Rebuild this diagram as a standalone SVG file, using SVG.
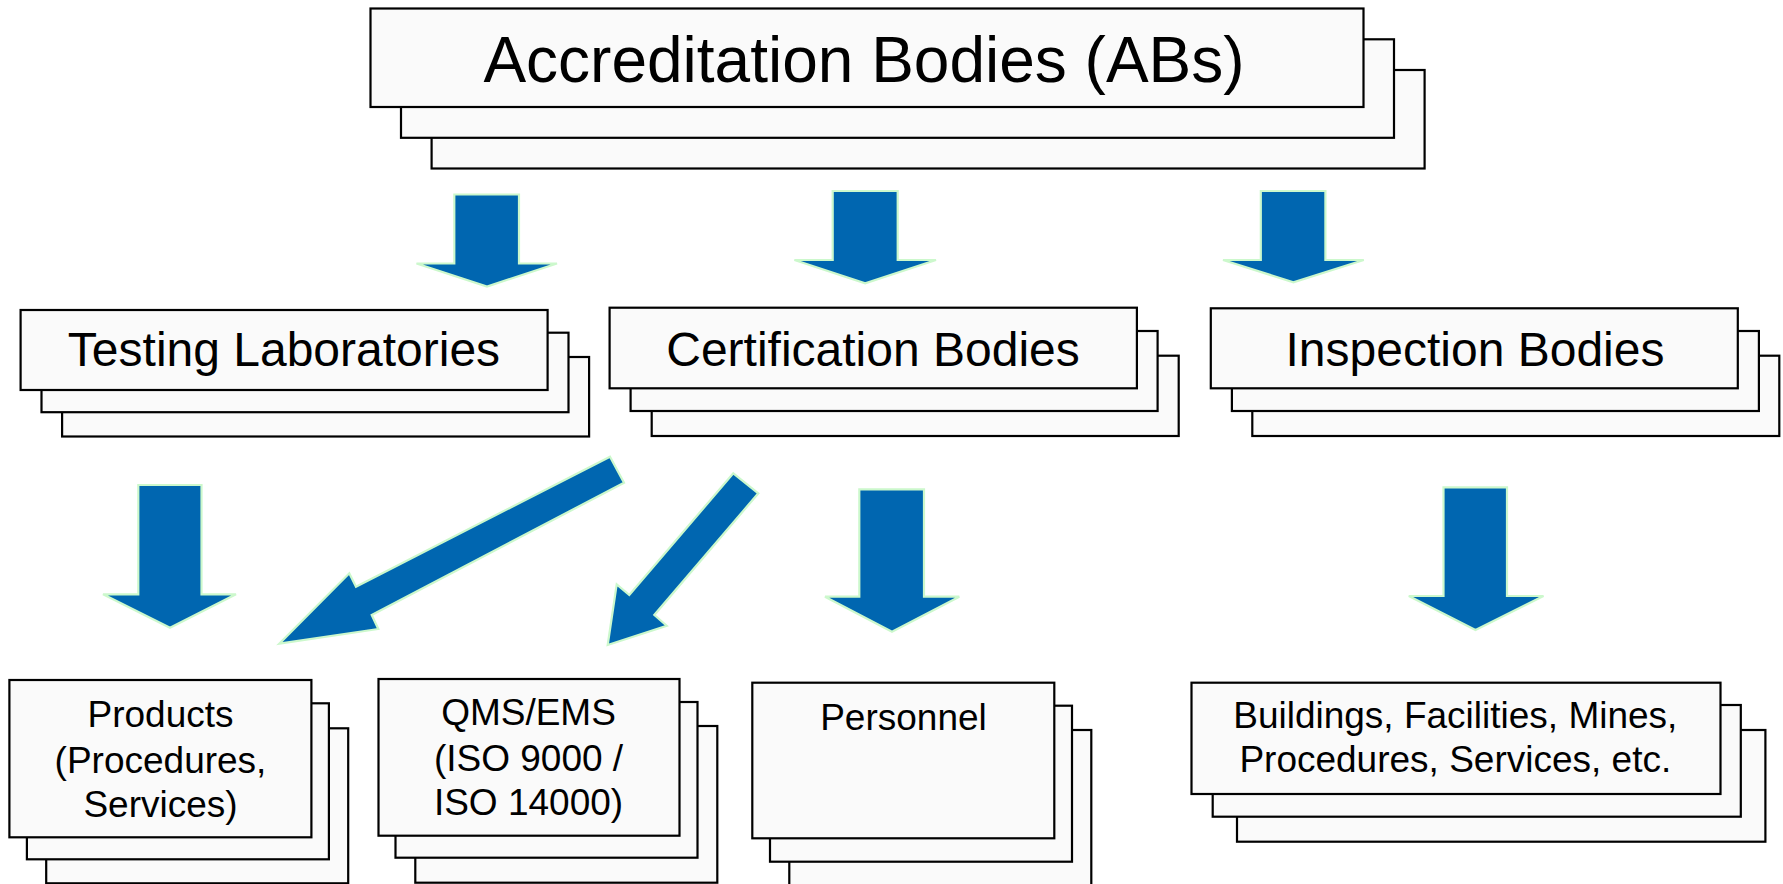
<svg xmlns="http://www.w3.org/2000/svg" width="1783" height="884" viewBox="0 0 1783 884">
<defs>
<style>
.box{fill:#fafafa;stroke:#000;stroke-width:2.2}
.arr{fill:#0066b0;stroke:#ccf8cc;stroke-width:2.2;stroke-linejoin:miter}
text{font-family:"Liberation Sans",Arial,sans-serif;fill:#000;text-anchor:middle}
.t1{font-size:64px}
.t2{font-size:48px}
.t3{font-size:37px}
</style>
</defs>
<rect width="1783" height="884" fill="#fff"/>
<g id="connectors">
<polygon class="arr" points="454.3,194.5 519,194.5 519,263.5 557,263.5 487,286.5 416.5,263.5 454.3,263.5"/>
<polygon class="arr" points="832.7,191 897.7,191 897.7,260 936,260 865.2,283.3 794.4,260 832.7,260"/>
<polygon class="arr" points="1260.8,191 1325.4,191 1325.4,260 1363.8,260 1293.4,282.3 1223,260 1260.8,260"/>
<polygon class="arr" points="138.3,485 201.5,485 201.5,594.3 236,594.3 170,627.7 103,594.3 138.3,594.3"/>
<polygon class="arr" points="859.3,489.3 924,489.3 924,596.7 959.3,596.7 892,631.7 825,596.7 859.3,596.7"/>
<polygon class="arr" points="1443.5,487.3 1507,487.3 1507,596 1543.5,596 1475.5,630 1408.8,596 1443.5,596"/>
<polygon class="arr" points="610,456.7 624,482.7 371.7,615 378.3,629 279.3,643.7 349.3,573.3 356,586.7"/>
<polygon class="arr" points="733.3,473.3 758.3,493.3 654.3,615 666.7,625.7 607.7,645 616.7,584.3 629.3,595"/>
</g>
<g id="node-abs">
<rect class="box" x="431.6" y="70" width="993" height="98.5"/>
<rect class="box" x="401" y="39.3" width="993" height="98.5"/>
<rect class="box" x="370.5" y="8.5" width="993" height="98.5"/>
<text class="t1" x="864" y="82">Accreditation Bodies (ABs)</text>
</g>
<g id="node-testing">
<rect class="box" x="62.1" y="357" width="527" height="79.5"/>
<rect class="box" x="41.5" y="332.7" width="527" height="79.5"/>
<rect class="box" x="20.6" y="310" width="527" height="80"/>
<text class="t2" x="284" y="365.5">Testing Laboratories</text>
</g>
<g id="node-certification">
<rect class="box" x="651.7" y="355.7" width="527" height="80.3"/>
<rect class="box" x="630.6" y="331" width="527" height="80"/>
<rect class="box" x="609.6" y="307.7" width="527.3" height="80.6"/>
<text class="t2" x="873" y="366">Certification Bodies</text>
</g>
<g id="node-inspection">
<rect class="box" x="1252.3" y="355.7" width="527" height="80.3"/>
<rect class="box" x="1231.9" y="331" width="527" height="80"/>
<rect class="box" x="1210.8" y="308.3" width="527" height="80"/>
<text class="t2" x="1475" y="366">Inspection Bodies</text>
</g>
<g id="node-products">
<rect class="box" x="46.2" y="728.3" width="302" height="155"/>
<rect class="box" x="26.9" y="703.3" width="302" height="156"/>
<rect class="box" x="9.4" y="680" width="302" height="157.3"/>
<text class="t3" x="160.5" y="727.3">Products</text>
<text class="t3" x="160.5" y="772.5">(Procedures,</text>
<text class="t3" x="160.5" y="816.7">Services)</text>
</g>
<g id="node-qms">
<rect class="box" x="415.3" y="726" width="302" height="156.7"/>
<rect class="box" x="395.5" y="702" width="302" height="155.7"/>
<rect class="box" x="378.5" y="679" width="301" height="156.7"/>
<text class="t3" x="528.5" y="725">QMS/EMS</text>
<text class="t3" x="528.5" y="771">(ISO 9000 /</text>
<text class="t3" x="528.5" y="815">ISO 14000)</text>
</g>
<g id="node-personnel">
<rect class="box" x="789.3" y="730" width="302" height="160"/>
<rect class="box" x="770" y="705.7" width="302" height="156"/>
<rect class="box" x="752.3" y="682.7" width="302" height="155.6"/>
<text class="t3" x="903.5" y="730">Personnel</text>
</g>
<g id="node-buildings">
<rect class="box" x="1237" y="730" width="528.4" height="111.7"/>
<rect class="box" x="1212.7" y="705" width="528.1" height="111.7"/>
<rect class="box" x="1191.5" y="682.7" width="529" height="111.3"/>
<text class="t3" x="1455.3" y="727.5">Buildings, Facilities, Mines,</text>
<text class="t3" x="1455.3" y="772">Procedures, Services, etc.</text>
</g>
</svg>
